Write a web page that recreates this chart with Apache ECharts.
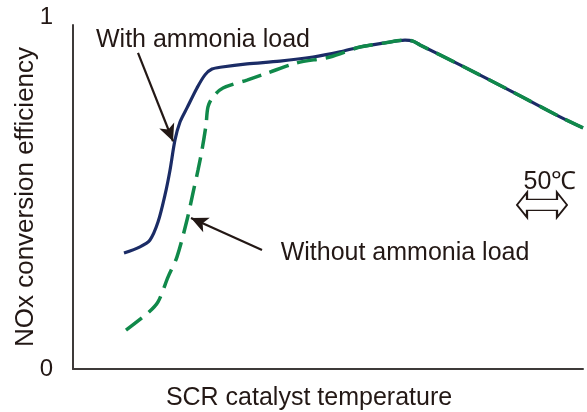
<!DOCTYPE html>
<html>
<head>
<meta charset="utf-8">
<script src="https://cdn.jsdelivr.net/npm/echarts@6/dist/echarts.min.js"></script>
<style>
  html, body { margin: 0; background: #fff; }
  #chart { width: 587px; height: 412px; }
</style>
</head>
<body>
<div id="chart"></div>
<script>
// relative temperature (about 1 unit = 1 degC) and NOx conversion efficiency
const withLoadTemp = [51, 67, 77, 85, 92, 97, 102, 107, 114, 124, 132, 139, 149, 174, 207, 240, 267, 287, 312, 332, 340, 347, 387, 440, 487, 510];
const withLoadEff = [0.337, 0.355, 0.375, 0.427, 0.506, 0.578, 0.666, 0.718, 0.759, 0.817, 0.855, 0.872, 0.878, 0.887, 0.895, 0.907, 0.922, 0.936, 0.948, 0.956, 0.953, 0.942, 0.884, 0.805, 0.733, 0.701];

const withoutLoadTemp = [53, 75, 85, 95, 104, 114, 120, 125, 129, 133, 135, 140, 150, 174, 194, 224, 257, 287, 312, 332, 340, 347, 387, 440, 487, 510];
const withoutLoadEff = [0.113, 0.163, 0.195, 0.267, 0.326, 0.433, 0.512, 0.578, 0.637, 0.709, 0.762, 0.791, 0.817, 0.840, 0.860, 0.890, 0.907, 0.936, 0.948, 0.956, 0.953, 0.942, 0.884, 0.805, 0.733, 0.701];

const yTicks = [0, 1];

// annotation anchors, in data units
const withLabelAt = [130, 0.956];
const withArrow = [[65, 0.919], [100, 0.662]];
const withoutLabelAt = [332, 0.337];
const withoutArrow = [[189, 0.346], [118, 0.439]];
const spanLabelAt = [477, 0.544];
const spanArrowAt = [469, 0.477];

const INK = '#231815';
const FONT = '"Liberation Sans", Arial, Helvetica, sans-serif';

const zip = (xs, ys) => xs.map((x, i) => [x, ys[i]]);

const chart = echarts.init(document.getElementById('chart'));

const textPoint = (coord, text) => ({
  coord,
  symbol: 'circle',
  symbolSize: 0,
  label: {
    show: true,
    position: 'inside',
    formatter: text,
    color: INK,
    fontSize: 25,
    fontFamily: FONT,
  },
});

chart.setOption({
  animation: false,
  backgroundColor: '#fff',
  grid: { left: 73, right: 4, top: 25, bottom: 43, containLabel: false, outerBoundsMode: 'none' },
  xAxis: {
    type: 'value',
    min: 0,
    max: 510,
    name: 'SCR catalyst temperature',
    nameLocation: 'middle',
    nameGap: 17,
    nameTextStyle: { color: INK, fontSize: 25, fontFamily: FONT, padding: [0, 38, 0, 0] },
    axisLine: { show: true, lineStyle: { color: '#3e3a39', width: 2 } },
    axisTick: { show: false },
    axisLabel: { show: false },
    splitLine: { show: false },
  },
  yAxis: {
    type: 'value',
    min: yTicks[0],
    max: yTicks[yTicks.length - 1],
    interval: 1,
    name: 'NOx conversion efficiency',
    nameLocation: 'middle',
    nameGap: 34,
    nameMoveOverlap: false,
    nameTextStyle: { color: INK, fontSize: 26, fontFamily: FONT },
    axisLine: { show: true, lineStyle: { color: '#3e3a39', width: 2 } },
    axisTick: { show: false },
    splitLine: { show: false },
    axisLabel: {
      margin: 20,
      color: INK,
      fontSize: 24,
      fontFamily: FONT,
      formatter: (v) => (v === 1 ? '{top|1}' : String(v)),
      rich: { top: { fontSize: 24, fontFamily: FONT, color: INK, padding: [0, 0, 16, 0] } },
    },
  },
  series: [
    {
      name: 'With ammonia load',
      type: 'line',
      data: zip(withLoadTemp, withLoadEff),
      smooth: 0.3,
      showSymbol: false,
      lineStyle: { color: '#1b2c66', width: 3.2 },
      markLine: {
        silent: true,
        symbol: ['none', 'arrow'],
        symbolSize: [12, 17],
        label: { show: false },
        lineStyle: { color: INK, width: 2.2, type: 'solid' },
        data: [
          [{ coord: withArrow[0] }, { coord: withArrow[1] }],
          [{ coord: withoutArrow[0] }, { coord: withoutArrow[1] }],
        ],
      },
      markPoint: {
        silent: true,
        data: [
          textPoint(withLabelAt, 'With ammonia load'),
          textPoint(withoutLabelAt, 'Without ammonia load'),
          textPoint(spanLabelAt, '50\u2103'),
          {
            coord: spanArrowAt,
            symbol: 'path://M0 12.5 L10 0 L10 7 L40 7 L40 0 L50 12.5 L40 25 L40 18 L10 18 L10 25 Z',
            symbolSize: [50, 25],
            itemStyle: { color: '#fff', borderColor: INK, borderWidth: 1.6 },
            label: { show: false },
          },
        ],
      },
    },
    {
      name: 'Without ammonia load',
      type: 'line',
      data: zip(withoutLoadTemp, withoutLoadEff),
      smooth: 0.3,
      showSymbol: false,
      lineStyle: { color: '#10894a', width: 3.5, type: [20, 9] },
    },
  ],
});
</script>
</body>
</html>
